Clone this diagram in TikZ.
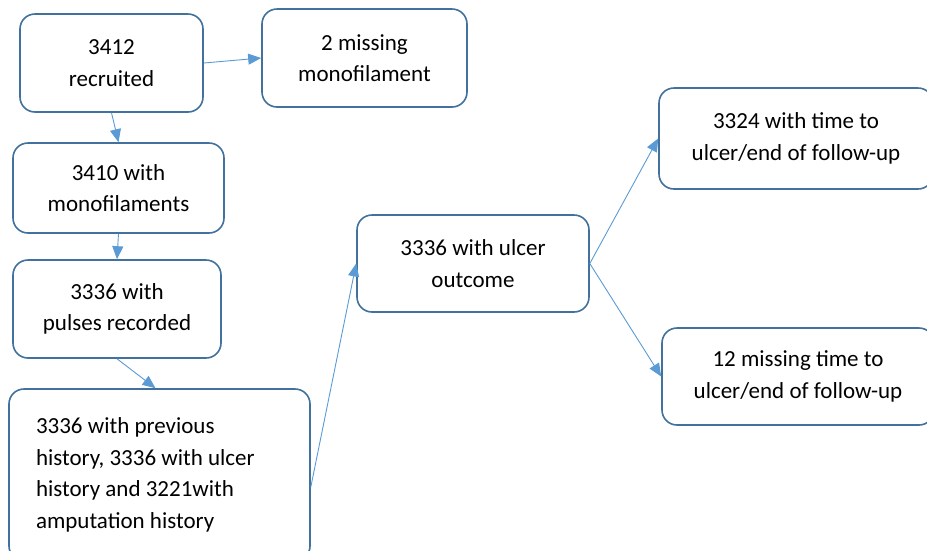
\documentclass[tikz,border=0pt]{standalone}
\usepackage{fontspec}
\setmainfont{Carlito}
\usetikzlibrary{arrows.meta}
\definecolor{boxline}{HTML}{41719C}
\definecolor{arrowc}{HTML}{5B9BD5}
\begin{document}
\begin{tikzpicture}[x=1pt,y=-1pt,
  box/.style={draw=boxline, line width=1.6pt, rounded corners=15pt, align=center,
    font=\fontsize{23}{31.5}\selectfont, inner sep=0pt},
  conn/.style={draw=arrowc, line width=0.9pt, -{Triangle[length=13pt,width=11pt]}}]
\useasboundingbox (0,0) rectangle (927,550);
\clip (0,0) rectangle (927,550);
\node[box, minimum width=183pt, minimum height=98pt] (b1) at (111.5,63) {3412\\recruited};
\node[box, minimum width=205pt, minimum height=98pt] (b2) at (364.5,58) {2 missing\\monofilament};
\node[box, minimum width=211pt, minimum height=90pt] (b3) at (118.5,188) {3410 with\\monofilaments};
\node[box, minimum width=208pt, minimum height=98pt] (b4) at (117,309) {3336 with\\pulses recorded};
\node[box, minimum width=301pt, minimum height=172pt, text width=247pt, align=flush left] (b5) at (159.5,475)
  {3336 with previous\\history, 3336 with ulcer\\history and 3221with\\amputation history};
\node[box, minimum width=232pt, minimum height=97pt] (b6) at (473,263.5) {3336 with ulcer\\outcome};
\node[box, minimum width=274pt, minimum height=101pt] (b7) at (796,138.5) {3324 with time to\\ulcer/end of follow-up};
\node[box, minimum width=272pt, minimum height=97pt] (b8) at (798,376.5) {12 missing time to\\ulcer/end of follow-up};
\draw[conn] (b1.east) -- (b2.west);
\draw[conn] (b1.south) -- (b3.north);
\draw[conn] (b3.south) -- (b4.north);
\draw[conn] (b4.south) -- ([xshift=-4pt]b5.north);
\draw[conn] ([yshift=-12pt]b5.east) -- (b6.west);
\draw[conn] (b6.east) -- (b7.west);
\draw[conn] (b6.east) -- (b8.west);
\end{tikzpicture}
\end{document}
